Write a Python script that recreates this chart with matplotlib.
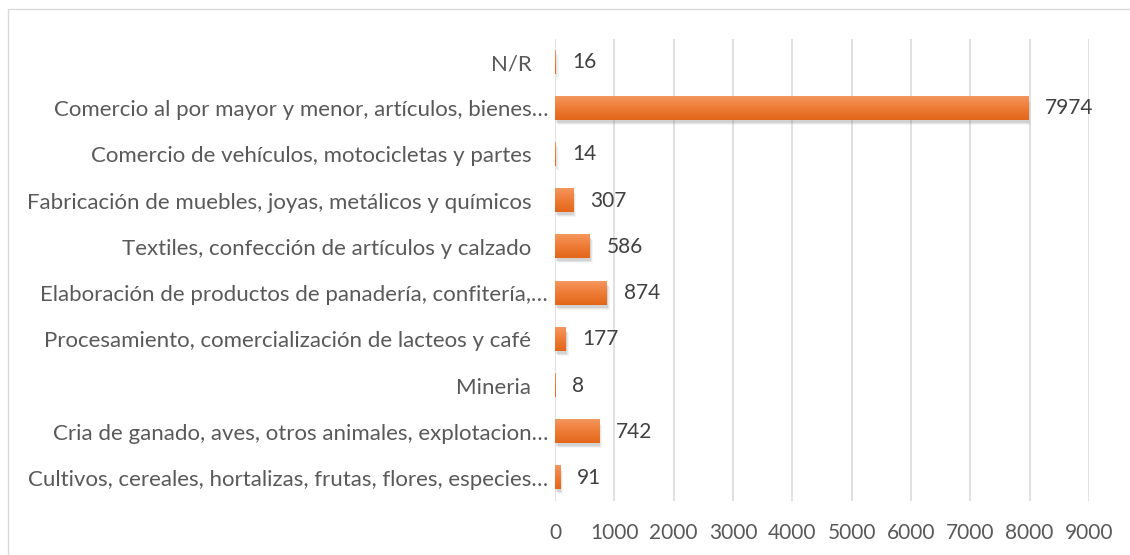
"""
Horizontal bar chart: number of businesses by economic activity
"""
import numpy as np
import matplotlib
matplotlib.use('Agg')
import matplotlib.pyplot as plt
from matplotlib import transforms
from matplotlib.colors import LinearSegmentedColormap
from matplotlib.patches import Rectangle

# Data (bottom to top, as drawn)
categories = [
    'Cultivos, cereales, hortalizas, frutas, flores, especies…',
    'Cria de ganado, aves, otros animales, explotacion…',
    'Mineria',
    'Procesamiento, comercialización de lacteos y café',
    'Elaboración de productos de panadería, confitería,…',
    'Textiles, confección de artículos y calzado',
    'Fabricación de muebles, joyas, metálicos y químicos',
    'Comercio de vehículos, motocicletas y partes',
    'Comercio al por mayor y menor, artículos, bienes…',
    'N/R',
]
counts = [91, 742, 8, 177, 874, 586, 307, 14, 7974, 16]
x_ticks = [0, 1000, 2000, 3000, 4000, 5000, 6000, 7000, 8000, 9000]

plt.rcParams['font.family'] = ['Lato', 'DejaVu Sans']

BAR_H = 0.5
grad_cmap = LinearSegmentedColormap.from_list('orange_grad', ['#E3671A', '#EE7B35', '#F4965E'])

fig = plt.figure(figsize=(11.3, 5.55), dpi=100)
ax = fig.add_axes([555 / 1130, 1 - 501 / 555, 534 / 1130, 462 / 555])

# Outer chart border (only left/top visible in the crop)
fig.patches.append(Rectangle((8 / 1130, -0.1), 1.2, 1.1 - 9 / 555,
                             transform=fig.transFigure, fill=False,
                             edgecolor='#D9D9D9', linewidth=1.0))

y = np.arange(len(categories))

# Soft shadow under each bar
for dx, dy, a in [(3, -5, 0.08), (2, -4, 0.14), (1, -3, 0.22)]:
    shadow_tr = transforms.offset_copy(ax.transData, fig=fig, x=dx, y=dy, units='dots')
    ax.barh(y, counts, height=BAR_H, color='#8C8C8C', alpha=a,
            transform=shadow_tr, zorder=2, linewidth=0)

# Bars with vertical gradient
gradient = np.linspace(0, 1, 64).reshape(-1, 1)
for yi, v in zip(y, counts):
    ax.imshow(gradient, extent=[0, v, yi - BAR_H / 2, yi + BAR_H / 2],
              cmap=grad_cmap, aspect='auto', origin='lower', zorder=3,
              interpolation='bilinear')

# Value labels
for yi, v in zip(y, counts):
    ax.annotate(f'{v}', xy=(v, yi), xytext=(12, 0), textcoords='offset points',
                ha='left', va='center', fontsize=15, color='#404040', zorder=4)

ax.set_xlim(0, 9000)
ax.set_ylim(-0.5, len(categories) - 0.5)
ax.set_xticks(x_ticks)
ax.set_xticklabels([str(t) for t in x_ticks])
ax.set_yticks(y)
ax.set_yticklabels(categories)

ax.grid(axis='x', color='#D9D9D9', linewidth=1.1, zorder=0)
ax.set_axisbelow(True)
for s in ax.spines.values():
    s.set_visible(False)

ax.tick_params(axis='x', length=0, pad=16, labelsize=15, labelcolor='#595959')
ax.tick_params(axis='y', length=0, pad=17, labelsize=16, labelcolor='#595959')
# truncated labels sit a little closer to the axis
for tick, lab in zip(ax.yaxis.get_major_ticks(), categories):
    if lab.endswith('…'):
        tick.set_pad(5)

plt.savefig('out.png', dpi=100)
plt.close()
